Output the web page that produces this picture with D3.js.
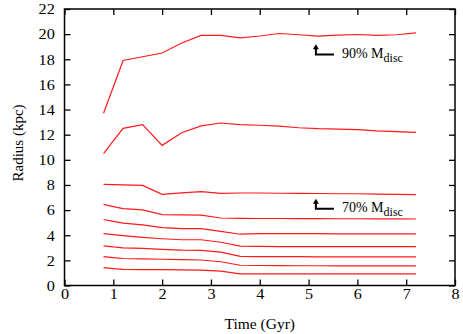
<!DOCTYPE html>
<html>
<head>
<meta charset="utf-8">
<script src="https://cdn.jsdelivr.net/npm/d3@7"></script>
<style>
  html, body { margin: 0; padding: 0; background: #fff; }
  svg { display: block; }
</style>
</head>
<body>
<svg id="chart" width="463" height="334"></svg>
<script>
// ---- data ----
const times = [0.8, 1.0, 1.2, 1.6, 2.0, 2.4, 2.8, 3.2, 3.6, 4.0, 4.4, 4.8, 5.2, 5.6, 6.0, 6.4, 6.8, 7.2];
const r90 = [13.7, 15.8, 17.9, 18.2, 18.5, 19.3, 19.9, 19.9, 19.7, 19.85, 20.05, 19.95, 19.84, 19.92, 19.97, 19.9, 19.95, 20.1];
const r80 = [10.5, 11.5, 12.5, 12.8, 11.15, 12.15, 12.7, 12.93, 12.8, 12.75, 12.68, 12.55, 12.48, 12.45, 12.4, 12.3, 12.25, 12.19];
const r70 = [8.05, 8.02, 8.0, 7.97, 7.25, 7.37, 7.47, 7.33, 7.36, 7.36, 7.34, 7.33, 7.32, 7.3, 7.3, 7.27, 7.25, 7.23];
const r60 = [6.45, 6.28, 6.11, 6.02, 5.64, 5.62, 5.6, 5.37, 5.34, 5.33, 5.33, 5.32, 5.32, 5.31, 5.31, 5.3, 5.3, 5.29];
const r50 = [5.25, 5.1, 4.97, 4.83, 4.61, 4.53, 4.52, 4.3, 4.08, 4.12, 4.12, 4.12, 4.12, 4.11, 4.11, 4.1, 4.1, 4.1];
const r40 = [4.13, 4.05, 3.97, 3.83, 3.72, 3.64, 3.64, 3.44, 3.13, 3.11, 3.1, 3.1, 3.1, 3.1, 3.1, 3.1, 3.1, 3.1];
const r30 = [3.16, 3.07, 3.0, 2.95, 2.88, 2.82, 2.8, 2.66, 2.32, 2.3, 2.29, 2.29, 2.28, 2.28, 2.28, 2.28, 2.28, 2.28];
const r20 = [2.3, 2.22, 2.15, 2.12, 2.09, 2.06, 2.03, 1.89, 1.61, 1.59, 1.58, 1.57, 1.57, 1.56, 1.56, 1.56, 1.56, 1.56];
const r10 = [1.42, 1.35, 1.29, 1.27, 1.26, 1.24, 1.22, 1.14, 0.93, 0.93, 0.93, 0.93, 0.93, 0.93, 0.93, 0.93, 0.93, 0.93];
const series = [r90, r80, r70, r60, r50, r40, r30, r20, r10];

const xTicks = [0, 1, 2, 3, 4, 5, 6, 7, 8];
const yTicks = [0, 2, 4, 6, 8, 10, 12, 14, 16, 18, 20, 22];
const xTitle = "Time (Gyr)";
const yTitle = "Radius (kpc)";
// annotation anchors (data coords: corner of the arrow) and labels
const annoLabels = ["90% ", "70% "];
const annoX = [5.15, 5.15];
const annoY = [18.38, 6.11];
const annoTipY = [19.2, 6.9];
const annoEndX = [5.52, 5.52];
const annoSub = "disc";

// ---- layout ----
const W = 463, H = 334;
const margin = { left: 64.5, right: 8, top: 9, bottom: 48.5 };
const iw = W - margin.left - margin.right;
const ih = H - margin.top - margin.bottom;
const FONT = '"Liberation Serif"';

const svg = d3.select("#chart");
const g = svg.append("g").attr("transform", `translate(${margin.left},${margin.top})`);

const x = d3.scaleLinear().domain([0, 8]).range([0, iw]);
const y = d3.scaleLinear().domain([0, 22]).range([ih, 0]);

const FS = 15;

// axes
function styleAxis(sel) {
  sel.attr("font-family", null).attr("font-size", null);
  sel.select(".domain").remove();
  sel.selectAll(".tick line").attr("stroke", "#000").attr("stroke-width", 1.3);
  sel.selectAll("text").style("font-size", FS + "px").style("font-family", FONT).attr("fill", "#000");
}
const ax = g.append("g").attr("transform", `translate(0,${ih})`)
  .call(d3.axisBottom(x).tickValues(xTicks).tickFormat(d3.format("d")).tickSizeInner(-6).tickSizeOuter(0).tickPadding(3))
  .call(styleAxis);
ax.selectAll("text").attr("transform", "scale(1.08,1)");
g.append("g")
  .call(d3.axisTop(x).tickValues(xTicks).tickSizeInner(-6).tickSizeOuter(0).tickFormat(""))
  .call(styleAxis);
const ay = g.append("g")
  .call(d3.axisLeft(y).tickValues(yTicks).tickFormat(d3.format("d")).tickSizeInner(-6).tickSizeOuter(0).tickPadding(9))
  .call(styleAxis);
ay.selectAll("text").attr("transform", "scale(1.08,1)");
g.append("g").attr("transform", `translate(${iw},0)`)
  .call(d3.axisRight(y).tickValues(yTicks).tickSizeInner(-6).tickSizeOuter(0).tickFormat(""))
  .call(styleAxis);

// frame
g.append("rect").attr("x", 0).attr("y", 0).attr("width", iw).attr("height", ih)
  .attr("fill", "none").attr("stroke", "#000").attr("stroke-width", 1.5);

// lines
const line = d3.line().x((d, i) => x(times[i])).y(d => y(d));
g.selectAll("path.series").data(series).join("path")
  .attr("class", "series")
  .attr("d", line)
  .attr("fill", "none")
  .attr("stroke", "#ff1a1a")
  .attr("stroke-width", 1.2);

// annotations
annoLabels.forEach((lab, i) => {
  const cx = x(annoX[i]), cy = y(annoY[i]);
  const tipY = y(annoTipY[i]);
  g.append("path")
    .attr("d", `M${x(annoEndX[i])},${cy} L${cx},${cy} L${cx},${tipY + 4}`)
    .attr("fill", "none").attr("stroke", "#000").attr("stroke-width", 2);
  g.append("path")
    .attr("d", `M${cx},${tipY} L${cx - 3},${tipY + 5} L${cx + 3},${tipY + 5} Z`)
    .attr("fill", "#000");
  const t = g.append("text")
    .attr("x", x(annoEndX[i]) + 8)
    .attr("y", cy + 3.5)
    .style("font-family", FONT)
    .style("font-size", "14px");
  t.append("tspan").text(lab + "M");
  t.append("tspan").attr("dy", 4).style("font-size", "12px").text(annoSub);
});

// axis titles
g.append("text")
  .attr("x", iw / 2).attr("y", ih + 43)
  .attr("text-anchor", "middle")
  .style("font-family", FONT)
  .style("font-size", "15.5px")
  .text(xTitle);
svg.append("text")
  .attr("transform", `translate(23,143) rotate(-90)`)
  .attr("text-anchor", "middle")
  .style("font-family", FONT)
  .style("font-size", "15px")
  .text(yTitle);
</script>
</body>
</html>
